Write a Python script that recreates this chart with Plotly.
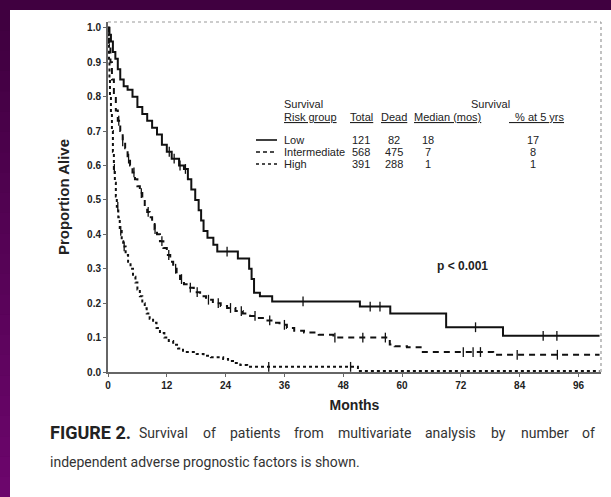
import plotly.graph_objects as go

# Kaplan-Meier step data (months, proportion alive) by survival risk group
low_t = [0, 0.3, 0.6, 1.0, 1.5, 2.0, 2.5, 3.2, 4.0, 5.0, 6.0, 7.0, 8.0, 9.0, 10.0,
         11.0, 12.0, 13.0, 14.5, 15.5, 16.3, 17.0, 17.8, 18.5, 19.0, 19.5, 20.3,
         21.5, 22.3, 26.5, 28.8, 29.3, 29.8, 31.0, 33.5, 51.4, 57.6, 69.0, 80.6, 100.3]
low_s = [1.0, 0.98, 0.96, 0.93, 0.91, 0.88, 0.85, 0.83, 0.82, 0.80, 0.77, 0.75, 0.73,
         0.71, 0.69, 0.66, 0.64, 0.62, 0.60, 0.59, 0.56, 0.53, 0.50, 0.47, 0.44, 0.41,
         0.39, 0.37, 0.35, 0.33, 0.30, 0.27, 0.23, 0.22, 0.205, 0.19, 0.17, 0.13,
         0.105, 0.105]
low_cens = [12.5, 13.5, 14.7, 15.8, 24.3, 39.8, 53.5, 55.5, 75.0, 88.8, 91.6]

mid_t = [0, 0.2, 0.5, 0.8, 1.2, 1.6, 2.0, 2.5, 3.0, 3.5, 4.0, 4.5, 5.0, 5.5, 6.0, 6.5,
         7.0, 7.5, 8.0, 8.5, 9.0, 9.5, 10.0, 10.6, 11.3, 12.0, 12.7, 13.3, 14.0, 14.7,
         15.5, 16.5, 17.5, 18.8, 20.0, 21.4, 23.0, 24.3, 26.0, 27.5, 29.0, 30.5, 32.0,
         33.7, 35.0, 36.5, 38.0, 40.0, 43.0, 46.0, 57.5, 58.5, 61.0, 64.0, 78.6, 100.3]
mid_s = [1.0, 0.95, 0.90, 0.85, 0.80, 0.76, 0.73, 0.70, 0.67, 0.65, 0.62, 0.60, 0.58,
         0.56, 0.54, 0.52, 0.50, 0.48, 0.465, 0.45, 0.43, 0.415, 0.40, 0.38, 0.36, 0.34,
         0.32, 0.30, 0.285, 0.27, 0.255, 0.245, 0.232, 0.22, 0.21, 0.20, 0.192, 0.186,
         0.177, 0.17, 0.163, 0.157, 0.15, 0.143, 0.137, 0.128, 0.12, 0.115, 0.108,
         0.10, 0.08, 0.075, 0.072, 0.058, 0.05, 0.05]
mid_cens = [2.2, 3.0, 4.2, 5.3, 6.8, 8.2, 9.6, 11.0, 12.4, 13.8, 15.0, 16.8, 18.2, 20.5,
            22.5, 25.0, 27.2, 30.0, 33.0, 36.0, 46.3, 52.0, 56.6, 72.5, 74.5, 76.0,
            83.5, 91.7]

high_t = [0, 0.1, 0.2, 0.3, 0.4, 0.6, 0.8, 1.0, 1.2, 1.4, 1.6, 1.8, 2.1, 2.4, 2.8, 3.1,
          3.6, 4.1, 4.6, 5.1, 5.6, 6.0, 6.5, 7.0, 7.5, 7.9, 8.5, 9.2, 9.9, 10.6, 11.5,
          12.4, 13.3, 14.3, 15.3, 18.1, 19.5, 21.0, 23.5, 24.5, 25.5, 27.0, 28.4, 51.0,
          100.3]
high_s = [1.0, 0.95, 0.90, 0.85, 0.80, 0.75, 0.70, 0.64, 0.59, 0.55, 0.51, 0.48, 0.45,
          0.41, 0.38, 0.365, 0.34, 0.32, 0.30, 0.277, 0.26, 0.24, 0.22, 0.20, 0.185,
          0.17, 0.155, 0.143, 0.128, 0.113, 0.10, 0.09, 0.079, 0.068, 0.058, 0.052,
          0.047, 0.043, 0.038, 0.032, 0.026, 0.02, 0.015, 0.003, 0.003]
high_cens = [1.3, 2.0, 2.6, 3.3, 32.8, 49.5]

x_ticks = [0, 12, 24, 36, 48, 60, 72, 84, 96]
y_ticks = [0.0, 0.1, 0.2, 0.3, 0.4, 0.5, 0.6, 0.7, 0.8, 0.9, 1.0]

# Table beside the curves
tbl_groups = ["Low", "Intermediate", "High"]
tbl_total = [121, 568, 391]
tbl_dead = [82, 475, 288]
tbl_median = [18, 7, 1]
tbl_5yr = [17, 8, 1]

caption_head = "FIGURE 2."
caption_line1 = "Survival of patients from multivariate analysis by number of"
caption_line2 = "independent adverse prognostic factors is shown."

INK = "#111111"
W, H = 611, 497
L, R, T, B = 108, 10, 22, 125          # plot frame margins in px
PW, PH = W - L - R, H - T - B


def px(x):
    return (x - L) / PW


def py(y):
    return (H - B - y) / PH


def surv_at(ts, ss, t):
    v = ss[0]
    for ti, si in zip(ts, ss):
        if ti <= t:
            v = si
    return v


fig = go.Figure()

groups = [
    (low_t, low_s, low_cens, "solid"),
    (mid_t, mid_s, mid_cens, "6px,5px"),
    (high_t, high_s, high_cens, "dot"),
]
for ts, ss, cens, dash in groups:
    fig.add_trace(go.Scatter(x=ts, y=ss, mode="lines", line_shape="hv",
                             line=dict(color=INK, width=2, dash=dash),
                             showlegend=False, hoverinfo="skip"))
    fig.add_trace(go.Scatter(x=cens, y=[surv_at(ts, ss, c) for c in cens],
                             mode="markers",
                             marker=dict(symbol="line-ns", size=7,
                                         line=dict(color=INK, width=1.3)),
                             showlegend=False, hoverinfo="skip"))

shapes = []
# purple frame around the white page
shapes.append(dict(type="rect", xref="paper", yref="paper", layer="below",
                   x0=px(0), x1=px(W), y0=py(H), y1=py(0),
                   fillcolor="#400040", line_width=0))
n = 24
for i in range(n):
    f = i / (n - 1)
    r = int(0x40 + f * (0x6c - 0x40))
    b = int(0x40 + f * (0x6c - 0x40))
    g = int(0x00 + f * 0x06)
    y0 = 10 + (H - 10) * i / n
    y1 = 10 + (H - 10) * (i + 1) / n
    shapes.append(dict(type="rect", xref="paper", yref="paper", layer="below",
                       x0=px(0), x1=px(10), y0=py(y1 + 0.5), y1=py(y0),
                       fillcolor=f"rgb({r},{g},{b})", line_width=0))
shapes.append(dict(type="rect", xref="paper", yref="paper", layer="below",
                   x0=px(10), x1=px(W + 2), y0=py(H + 2), y1=py(10),
                   fillcolor="white", line_width=0))
# dotted top and right frame
shapes.append(dict(type="line", xref="paper", yref="paper", x0=0, x1=1, y0=1, y1=1,
                   line=dict(color="#999999", width=1.2, dash="dot")))
shapes.append(dict(type="line", xref="paper", yref="paper", x0=1, x1=1, y0=0, y1=1,
                   line=dict(color="#999999", width=1.2, dash="dot")))

# table line samples
row_y = [140, 152, 164]
dashes = ["solid", "4px,3px", "dot"]
for yy, d in zip(row_y, dashes):
    shapes.append(dict(type="line", xref="paper", yref="paper",
                       x0=px(256), x1=px(277), y0=py(yy), y1=py(yy),
                       line=dict(color=INK, width=1.6, dash=d)))

ann = []
TF = dict(family="Liberation Sans, Arial, sans-serif", size=11, color="#222222")


def txt(x, y, s, anchor="left", font=TF, **kw):
    ann.append(dict(xref="paper", yref="paper", x=px(x), y=py(y), text=s,
                    showarrow=False, xanchor=anchor, yanchor="middle",
                    font=font, **kw))


txt(282, 104, "Survival")
txt(490, 104, "Survival", anchor="center")
txt(282, 117, "<u>Risk group</u>")
txt(361, 117, "<u>Total</u>", anchor="center")
txt(394, 117, "<u>Dead</u>", anchor="center")
txt(412, 117, "<u>Median (mos)</u>")
txt(567, 117, "<u>  % at 5 yrs</u>", anchor="right")
for i, yy in enumerate(row_y):
    txt(282, yy, tbl_groups[i])
    txt(361, yy, str(tbl_total[i]), anchor="center")
    txt(394, yy, str(tbl_dead[i]), anchor="center")
    txt(428, yy, str(tbl_median[i]), anchor="center")
    txt(533, yy, str(tbl_5yr[i]), anchor="center")

txt(462, 266, "<b>p < 0.001</b>", anchor="center",
    font=dict(family="Liberation Sans, Arial, sans-serif", size=12, color="#222222"))

# caption, first line set justified word by word (approximate Roboto 14px advances)
CAP = dict(family="Roboto, Liberation Sans, sans-serif", size=14, color="#333333")
txt(48, 432, f"<b>{caption_head}</b>", font=dict(CAP, size=18, color="#222222"))
narrow = {"i": 3.4, "l": 3.4, "t": 4.5, "f": 4.8, "r": 4.7, "j": 3.4}
wide = {"m": 12.2, "w": 10.5, "S": 8.7}


def word_w(w):
    return sum(narrow.get(c, wide.get(c, 7.5)) for c in w)


words = caption_line1.split()
start, end = 137, 592
text_w = sum(word_w(w) for w in words)
gap = (end - start - text_w) / (len(words) - 1)
xx = start
for w in words:
    txt(xx, 433, w, font=CAP)
    xx += word_w(w) + gap
txt(48, 462, caption_line2, font=CAP)

AX = dict(family="Liberation Sans, Arial, sans-serif", size=10, color="#222222")
fig.update_layout(
    width=W, height=H,
    margin=dict(l=L, r=R, t=T, b=B),
    paper_bgcolor="white", plot_bgcolor="rgba(0,0,0,0)",
    shapes=shapes, annotations=ann,
    xaxis=dict(range=[0, 100.6], tickvals=x_ticks, ticktext=[f"<b>{v}</b>" for v in x_ticks],
               showgrid=False, zeroline=False, showline=True, linecolor="#666666",
               linewidth=2, ticks="outside", ticklen=3, tickcolor="#666666",
               tickfont=AX,
               title=dict(text="<b>Months</b>", standoff=10,
                          font=dict(family="Liberation Sans, Arial, sans-serif",
                                    size=14, color="#222222"))),
    yaxis=dict(range=[0, 1.017], tickvals=y_ticks,
               ticktext=[f"<b>{v:.1f}</b>" for v in y_ticks],
               showgrid=False, zeroline=False, showline=True, linecolor="#666666",
               linewidth=2, ticks="outside", ticklen=3, tickcolor="#666666",
               tickfont=AX,
               title=dict(text="<b>Proportion Alive</b>", standoff=14,
                          font=dict(family="Liberation Sans, Arial, sans-serif",
                                    size=15, color="#222222"))),
)

fig.write_html("out.html")
